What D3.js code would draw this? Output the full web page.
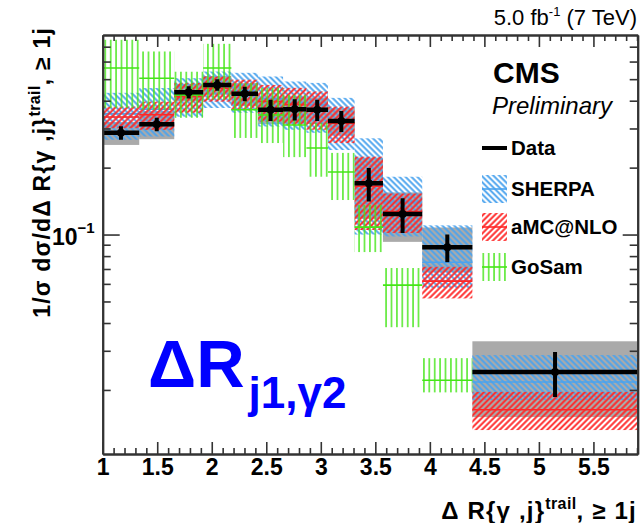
<!DOCTYPE html>
<html>
<head>
<meta charset="utf-8">
<script src="https://cdn.jsdelivr.net/npm/d3@7"></script>
<style>
  html, body { margin: 0; padding: 0; background: #fff; }
  svg { display: block; }
  text { font-family: "Liberation Sans", Arial, Helvetica, sans-serif; }
</style>
</head>
<body>
<svg id="chart" width="640" height="523"></svg>
<script>
// Bin edges in ΔR{γ, j_trail}
const binEdges = [1.0, 1.335, 1.656, 1.921, 2.18, 2.425, 2.654, 2.868, 3.066, 3.31, 3.57, 3.93, 4.39, 5.906];

// Measured normalised cross section with statistical and total uncertainties
const dataVal  = [0.287, 0.3135, 0.437, 0.471, 0.430, 0.364, 0.366, 0.364, 0.3245, 0.170, 0.1237, 0.0876, 0.0241];
const dataStat = [0.020, 0.022, 0.028, 0.028, 0.032, 0.040, 0.040, 0.040, 0.035, 0.029, 0.022, 0.0125, 0.0055];
const dataTot  = [0.034, 0.045, 0.040, 0.045, 0.050, 0.050, 0.050, 0.050, 0.045, 0.052, 0.031, 0.020, 0.009];

// SHERPA prediction: central value and band edges
const sherpaVal = [0.350, 0.366, 0.420, 0.456, 0.443, 0.410, 0.392, 0.384, 0.326, 0.185, 0.140, 0.075, 0.0217];
const sherpaLo  = [0.267, 0.276, 0.339, 0.371, 0.353, 0.306, 0.296, 0.287, 0.240, 0.100, 0.098, 0.0574, 0.0180];
const sherpaHi  = [0.434, 0.456, 0.505, 0.541, 0.534, 0.514, 0.488, 0.481, 0.412, 0.271, 0.182, 0.110, 0.0287];

// aMC@NLO prediction
const amcVal = [0.338, 0.346, 0.417, 0.455, 0.430, 0.397, 0.384, 0.368, 0.317, 0.165, 0.127, 0.0617, 0.0163];
const amcLo  = [0.301, 0.296, 0.353, 0.396, 0.364, 0.322, 0.311, 0.296, 0.258, 0.1048, 0.1016, 0.0516, 0.0132];
const amcHi  = [0.376, 0.396, 0.481, 0.514, 0.497, 0.471, 0.457, 0.440, 0.376, 0.224, 0.153, 0.0716, 0.0196];

// GoSam prediction (first twelve bins)
const gosamVal = [0.561, 0.505, 0.425, 0.561, 0.364, 0.345, 0.311, 0.245, 0.191, 0.108, 0.0592, 0.0221];
const gosamLo  = [0.371, 0.364, 0.335, 0.404, 0.272, 0.258, 0.223, 0.182, 0.143, 0.0834, 0.0383, 0.0195];
const gosamHi  = [0.752, 0.666, 0.540, 0.721, 0.481, 0.457, 0.425, 0.318, 0.233, 0.136, 0.0707, 0.0278];

// Axis ticks
const xMajorTicks = [1, 1.5, 2, 2.5, 3, 3.5, 4, 4.5, 5, 5.5];
const xMinorTicks = d3.range(11, 60).map(v => v / 10).filter(v => v % 0.5 !== 0);
const yMajorTicks = [0.1];
const yMinorTicks = [0.02, 0.03, 0.04, 0.05, 0.06, 0.07, 0.08, 0.09, 0.2, 0.3, 0.4, 0.5, 0.6, 0.7];

const legendItems = ["Data", "SHERPA", "aMC@NLO", "GoSam"];

const COL_BLUE = "#4aa3ee";
const COL_RED = "#ff2626";
const COL_GREEN = "#44e616";
const COL_GREY = "#aaaaaa";

const frame = { left: 102.7, right: 637.7, top: 35, bottom: 454 };

const svg = d3.select("#chart");

const x = d3.scaleLinear().domain([1, 5.906]).range([frame.left, frame.right]);
const y = d3.scaleLog().domain([0.0103, 0.79]).range([frame.bottom, frame.top]);

// Hatch patterns
const defs = svg.append("defs");
function hatch(id, color, angle, period, width) {
  const p = defs.append("pattern")
    .attr("id", id)
    .attr("patternUnits", "userSpaceOnUse")
    .attr("width", period).attr("height", period)
    .attr("patternTransform", `rotate(${angle})`);
  p.append("line")
    .attr("x1", period / 2).attr("y1", -1)
    .attr("x2", period / 2).attr("y2", period + 1)
    .attr("stroke", color).attr("stroke-width", width);
}
hatch("hBlue", COL_BLUE, -45, 4.2, 1.9);
hatch("hRed", COL_RED, 45, 4.2, 1.9);
hatch("hGreen", COL_GREEN, 0, 5.4, 1.4);

defs.append("clipPath").attr("id", "plotClip")
  .append("rect")
  .attr("x", frame.left).attr("y", frame.top)
  .attr("width", frame.right - frame.left).attr("height", frame.bottom - frame.top);

const plot = svg.append("g").attr("clip-path", "url(#plotClip)");

const bins = dataVal.map((v, i) => ({ i, x0: binEdges[i], x1: binEdges[i + 1] }));

// Total uncertainty of the measurement
plot.append("g").selectAll("rect").data(bins).join("rect")
  .attr("x", d => x(d.x0)).attr("width", d => x(d.x1) - x(d.x0))
  .attr("y", d => y(dataVal[d.i] + dataTot[d.i]))
  .attr("height", d => y(dataVal[d.i] - dataTot[d.i]) - y(dataVal[d.i] + dataTot[d.i]))
  .attr("fill", COL_GREY);

function band(cls, lo, hi, val, pattern, color) {
  const g = plot.append("g").attr("class", cls);
  g.selectAll("rect").data(bins).join("rect")
    .attr("x", d => x(d.x0)).attr("width", d => x(d.x1) - x(d.x0))
    .attr("y", d => y(hi[d.i]))
    .attr("height", d => y(lo[d.i]) - y(hi[d.i]))
    .attr("fill", `url(#${pattern})`);
  g.selectAll("line").data(bins).join("line")
    .attr("x1", d => x(d.x0)).attr("x2", d => x(d.x1))
    .attr("y1", d => y(val[d.i])).attr("y2", d => y(val[d.i]))
    .attr("stroke", color).attr("stroke-width", 1.6);
}
band("sherpa", sherpaLo, sherpaHi, sherpaVal, "hBlue", COL_BLUE);
band("amc", amcLo, amcHi, amcVal, "hRed", COL_RED);

// GoSam
const gBins = bins.slice(0, gosamVal.length);
const gg = plot.append("g").attr("class", "gosam");
gg.selectAll("rect").data(gBins).join("rect")
  .attr("x", d => x(d.x0)).attr("width", d => x(d.x1) - x(d.x0))
  .attr("y", d => y(gosamHi[d.i]))
  .attr("height", d => y(gosamLo[d.i]) - y(gosamHi[d.i]))
  .attr("fill", "url(#hGreen)");
gg.selectAll("line.c").data(gBins).join("line").attr("class", "c")
  .attr("x1", d => x(d.x0)).attr("x2", d => x(d.x1))
  .attr("y1", d => y(gosamVal[d.i])).attr("y2", d => y(gosamVal[d.i]))
  .attr("stroke", COL_GREEN).attr("stroke-width", 1.6);

// Data points
const dg = plot.append("g").attr("class", "data");
dg.selectAll("line.h").data(bins).join("line").attr("class", "h")
  .attr("x1", d => x(d.x0)).attr("x2", d => x(d.x1))
  .attr("y1", d => y(dataVal[d.i])).attr("y2", d => y(dataVal[d.i]))
  .attr("stroke", "#000").attr("stroke-width", 4.5);
dg.selectAll("line.v").data(bins).join("line").attr("class", "v")
  .attr("x1", d => x((d.x0 + d.x1) / 2)).attr("x2", d => x((d.x0 + d.x1) / 2))
  .attr("y1", d => y(dataVal[d.i] + dataStat[d.i])).attr("y2", d => y(dataVal[d.i] - dataStat[d.i]))
  .attr("stroke", "#000").attr("stroke-width", 4);
dg.selectAll("circle").data(bins).join("circle")
  .attr("cx", d => x((d.x0 + d.x1) / 2)).attr("cy", d => y(dataVal[d.i]))
  .attr("r", 4).attr("fill", "#000");

// Axes
const axisColor = "#333";
function styleAxis(g) {
  g.select(".domain").attr("stroke", axisColor).attr("stroke-width", 2);
  g.selectAll(".tick line").attr("stroke", axisColor).attr("stroke-width", 1.6);
}
const xMajor = svg.append("g").attr("transform", `translate(0,${frame.bottom})`)
  .call(d3.axisBottom(x).tickValues(xMajorTicks).tickFormat(d3.format("")).tickSizeInner(-12).tickSizeOuter(0).tickPadding(5));
styleAxis(xMajor);
xMajor.selectAll(".tick text")
  .attr("font-size", 23).attr("font-weight", "bold").attr("fill", "#000");
const xMinor = svg.append("g").attr("transform", `translate(0,${frame.bottom})`)
  .call(d3.axisBottom(x).tickValues(xMinorTicks).tickFormat("").tickSizeInner(-6).tickSizeOuter(0));
styleAxis(xMinor);
const xTopMajor = svg.append("g").attr("transform", `translate(0,${frame.top})`)
  .call(d3.axisTop(x).tickValues(xMajorTicks).tickFormat("").tickSizeInner(-12).tickSizeOuter(0));
styleAxis(xTopMajor);
const xTopMinor = svg.append("g").attr("transform", `translate(0,${frame.top})`)
  .call(d3.axisTop(x).tickValues(xMinorTicks).tickFormat("").tickSizeInner(-6).tickSizeOuter(0));
styleAxis(xTopMinor);

const yMajor = svg.append("g").attr("transform", `translate(${frame.left},0)`)
  .call(d3.axisLeft(y).tickValues(yMajorTicks).tickSizeInner(-17).tickSizeOuter(0).tickPadding(8));
styleAxis(yMajor);
yMajor.selectAll(".tick text").each(function () {
  const t = d3.select(this).text(null)
    .attr("font-size", 23).attr("font-weight", "bold").attr("fill", "#000").attr("dy", "0.42em");
  t.append("tspan").text("10");
  t.append("tspan").text("−1").attr("font-size", 15).attr("dy", "-0.75em");
});
const yMinor = svg.append("g").attr("transform", `translate(${frame.left},0)`)
  .call(d3.axisLeft(y).tickValues(yMinorTicks).tickFormat("").tickSizeInner(-8).tickSizeOuter(0));
styleAxis(yMinor);
const yRMajor = svg.append("g").attr("transform", `translate(${frame.right},0)`)
  .call(d3.axisRight(y).tickValues(yMajorTicks).tickFormat("").tickSizeInner(-15).tickSizeOuter(0));
styleAxis(yRMajor);
const yRMinor = svg.append("g").attr("transform", `translate(${frame.right},0)`)
  .call(d3.axisRight(y).tickValues(yMinorTicks).tickFormat("").tickSizeInner(-8).tickSizeOuter(0));
styleAxis(yRMinor);

// Axis titles
const xt = svg.append("text")
  .attr("x", 637).attr("y", 519).attr("text-anchor", "end")
  .attr("font-size", 24).attr("font-weight", "bold").attr("letter-spacing", 1.2);
xt.append("tspan").text("Δ R{γ  ,j}");
xt.append("tspan").text("trail").attr("font-size", 16).attr("dy", -10).attr("letter-spacing", 0.4);
xt.append("tspan").text(", ≥ 1j").attr("dy", 10);

const yt = svg.append("text")
  .attr("transform", "translate(50,27) rotate(-90)")
  .attr("text-anchor", "end")
  .attr("font-size", 23).attr("font-weight", "bold").attr("letter-spacing", 1.2);
yt.append("tspan").text("1/σ dσ/dΔ R{γ  ,j}");
yt.append("tspan").text("trail").attr("font-size", 16).attr("dy", -10).attr("letter-spacing", 0.4);
yt.append("tspan").text(", ≥ 1j").attr("dy", 10);

// Header text
const lumi = svg.append("text").attr("x", 637).attr("y", 25).attr("text-anchor", "end").attr("font-size", 22);
lumi.append("tspan").text("5.0 fb");
lumi.append("tspan").text("-1").attr("font-size", 13).attr("dy", -9);
lumi.append("tspan").text(" (7 TeV)").attr("dy", 9);

svg.append("text").attr("x", 493).attr("y", 83).attr("font-size", 30).attr("font-weight", "bold").text("CMS");
svg.append("text").attr("x", 492).attr("y", 114).attr("font-size", 24).attr("font-style", "italic").text("Preliminary");

// Legend
const lg = svg.append("g").attr("class", "legend");
const legY = [148, 189, 227, 267];
const lx0 = 482, lx1 = 507, lh = 28;
lg.append("line").attr("x1", lx0).attr("x2", lx1).attr("y1", legY[0]).attr("y2", legY[0])
  .attr("stroke", "#000").attr("stroke-width", 4);
[["hBlue", COL_BLUE], ["hRed", COL_RED], ["hGreen", COL_GREEN]].forEach(([p, c], k) => {
  const cy = legY[k + 1];
  lg.append("rect").attr("x", lx0).attr("y", cy - lh / 2).attr("width", lx1 - lx0).attr("height", lh)
    .attr("fill", `url(#${p})`);
  lg.append("line").attr("x1", lx0).attr("x2", lx1).attr("y1", cy).attr("y2", cy)
    .attr("stroke", c).attr("stroke-width", 1.6);
});
lg.selectAll("text").data(legendItems).join("text")
  .attr("x", 511).attr("y", (d, i) => legY[i] + 7)
  .attr("font-size", 20.5).attr("font-weight", "bold").text(d => d);

// Observable label
const obs = svg.append("text").attr("x", 148).attr("y", 387).attr("fill", "#0000ff").attr("font-weight", "bold");
obs.append("tspan").text("ΔR").attr("font-size", 67);
obs.append("tspan").text("j1,γ2").attr("font-size", 44).attr("dy", 21).attr("dx", 4);
</script>
</body>
</html>
